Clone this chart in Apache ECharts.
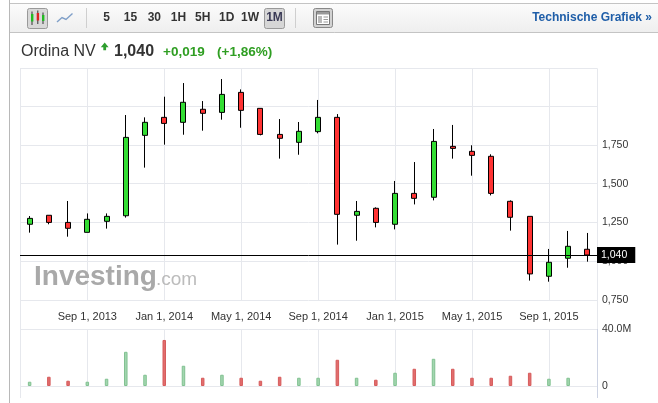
<!DOCTYPE html>
<html><head><meta charset="utf-8">
<script src="https://cdn.jsdelivr.net/npm/echarts@6/dist/echarts.min.js"></script>
<style>html,body{margin:0;padding:0;background:#fff}#c{width:658px;height:403px}</style>
</head><body><div id="c"></div>
<script>
const categories = ['Jun 1, 2013','Jul 1, 2013','Aug 1, 2013','Sep 1, 2013','Oct 1, 2013','Nov 1, 2013','Dec 1, 2013',
  'Jan 1, 2014','Feb 1, 2014','Mar 1, 2014','Apr 1, 2014','May 1, 2014','Jun 1, 2014','Jul 1, 2014','Aug 1, 2014','Sep 1, 2014','Oct 1, 2014','Nov 1, 2014','Dec 1, 2014',
  'Jan 1, 2015','Feb 1, 2015','Mar 1, 2015','Apr 1, 2015','May 1, 2015','Jun 1, 2015','Jul 1, 2015','Aug 1, 2015','Sep 1, 2015','Oct 1, 2015','Nov 1, 2015'];
const tickLabels = ['Sep 1, 2013','Jan 1, 2014','May 1, 2014','Sep 1, 2014','Jan 1, 2015','May 1, 2015','Sep 1, 2015'];
const openValues  = [1.238,1.296,1.250,1.186,1.257,1.293,1.811,1.927,1.895,1.979,1.959,2.088,1.985,1.817,1.766,1.835,1.927,1.296,1.341,1.238,1.437,1.412,1.740,1.708,1.676,1.386,1.289,0.903,1.019,1.077];
const closeValues = [1.276,1.250,1.212,1.270,1.289,1.798,1.895,1.888,2.024,1.953,2.075,1.972,1.817,1.792,1.837,1.927,1.302,1.321,1.250,1.437,1.405,1.772,1.727,1.682,1.437,1.283,0.918,0.993,1.096,1.040];
const lowValues   = [1.184,1.238,1.158,1.186,1.210,1.281,1.603,1.751,1.815,1.841,1.912,1.860,1.811,1.661,1.686,1.824,1.107,1.132,1.218,1.205,1.366,1.392,1.661,1.551,1.424,1.197,0.875,0.868,0.958,0.997];
const highValues  = [1.291,1.296,1.388,1.308,1.308,1.942,1.927,2.060,2.148,2.032,2.174,2.107,1.985,1.916,1.897,2.039,1.948,1.388,1.347,1.517,1.639,1.852,1.878,1.747,1.689,1.392,1.289,1.079,1.195,1.182];
const volumeValues = [3.0,6.5,3.7,3.0,5.1,24.0,7.9,32.3,14.2,5.8,7.9,5.8,3.7,6.5,5.8,5.8,18.4,5.8,4.4,9.3,12.1,19.1,12.1,5.8,5.8,7.2,9.3,5.1,5.8,0]; // millions
const timeframes = ['5','15','30','1H','5H','1D','1W','1M'];
const stockName = 'Ordina NV';
const lastPrice = 1.040;
const changeText = '+0,019';
const changePctText = '(+1,86%)';

const FONT = "'Liberation Sans', Arial, sans-serif";
const GRID = '#e6e8ed';
const fmt = v => v.toFixed(3).replace('.', ',');
const isTick = (i, v) => tickLabels.indexOf(v) >= 0;

const chart = echarts.init(document.getElementById('c'), null, {renderer: 'canvas'});

function txt(x, y, text, font, fill, align) {
  return {type: 'text', x: x, y: y, z: 10, silent: true,
    style: {text: text, font: font, fill: fill, align: align || 'left', verticalAlign: 'middle',
      textAlign: align || 'left', textVerticalAlign: 'middle'}};
}
function line(x1, y1, x2, y2, stroke, w, z) {
  return {type: 'line', z: z == null ? 10 : z, silent: true, shape: {x1: x1, y1: y1, x2: x2, y2: y2}, style: {stroke: stroke, lineWidth: w || 1}};
}
function rect(x, y, w, h, fill, stroke, r, z) {
  return {type: 'rect', z: z == null ? 10 : z, silent: true, shape: {x: x, y: y, width: w, height: h, r: r || 0}, style: {fill: fill, stroke: stroke || null, lineWidth: 1}};
}

const tfX = [106.7, 130.5, 154.3, 178.5, 202.7, 226.7, 250, 274.5];
const graphics = [
  // toolbar
  rect(9.5, 3.5, 660, 29, new echarts.graphic.LinearGradient(0, 0, 0, 1, [{offset: 0, color: '#fcfcfc'}, {offset: 1, color: '#eeeeee'}]), '#c4c4c4', 0, 5),
  line(9.5, 0, 9.5, 403, '#b8b8b8', 1, 6),
  rect(27.5, 8.5, 20, 20, '#d8d8d8', '#999', 2),
  // candle icon
  line(32, 11.5, 32, 25, '#333'), rect(31, 14, 2.4, 7.5, '#22bb22', null, 0, 11),
  line(37.8, 10.5, 37.8, 24, '#333'), rect(36.7, 13, 2.4, 7.5, '#dd2222', null, 0, 11),
  line(43, 12.5, 43, 24, '#333'), rect(42, 15, 2.4, 6, '#22bb22', null, 0, 11),
  // line icon
  {type: 'polyline', z: 10, silent: true, shape: {points: [[57, 22], [62, 17.5], [66, 19.5], [72.5, 13.5]]}, style: {stroke: '#7f9fc8', lineWidth: 1.4, fill: null}},
  line(86.5, 8, 86.5, 28, '#cfcfcf'),
  rect(264.5, 8.5, 20, 20, '#d6d6d6', '#999', 2),
  line(295.5, 8, 295.5, 28, '#cfcfcf'),
  // layout icon
  rect(313.5, 8.5, 19, 19, '#d2d2d2', '#888', 2),
  rect(316.5, 11.5, 13, 13, '#fff', '#777', 0, 11),
  rect(317, 12, 12, 2.5, '#999', null, 0, 12),
  rect(318, 16, 4, 7, '#bbb', null, 0, 12),
  line(323.5, 17, 328, 17, '#999', 1, 12), line(323.5, 19.5, 328, 19.5, '#999', 1, 12), line(323.5, 22, 328, 22, '#999', 1, 12),
  txt(652, 17.3, 'Technische Grafiek \u00bb', "bold 12px " + FONT, '#1f5ea8', 'right'),
  // header
  txt(21, 51.3, stockName, "16px " + FONT, '#333'),
  {type: 'polygon', z: 10, silent: true, shape: {points: [[100.8, 47.2], [104.7, 42.6], [108.6, 47.2], [106.1, 47.2], [106.1, 50.2], [103.3, 50.2], [103.3, 47.2]]}, style: {fill: '#2e9e2e'}},
  txt(114, 51.3, fmt(lastPrice), "bold 16px " + FONT, '#333'),
  txt(163, 52.2, changeText, "bold 13.5px " + FONT, '#2f9e22'),
  txt(217, 52.2, changePctText, "bold 13.5px " + FONT, '#2f9e22'),
  // panel borders
  line(20.5, 68.5, 597.5, 68.5, GRID, 1, 1),
  line(20.5, 68.5, 20.5, 398, GRID, 1, 1),
  line(597.5, 68.5, 597.5, 329, GRID, 1, 1),
  line(597.5, 329, 597.5, 398, '#cdd3e3', 1, 1)
];
const wm1 = txt(34, 277, 'Investing', "bold 28px " + FONT, '#a9a9a9'); wm1.z = 1.6;
const wm2 = txt(156, 280, '.com', "19px " + FONT, '#bcbcbc'); wm2.z = 1.6;
graphics.push(wm1, wm2);
timeframes.forEach((t, i) => graphics.push(txt(tfX[i], 17.5, t, "bold 12px " + FONT, i === 7 ? '#3a3a55' : '#333', 'center')));

const vSplit = {show: true, interval: isTick, alignWithLabel: true, lineStyle: {color: GRID, width: 1}};

const option = {
  animation: false,
  grid: [
    {left: 20, right: 61, top: 68, height: 232},
    {left: 20, right: 61, top: 329, height: 57}
  ],
  xAxis: [
    {type: 'category', data: categories, gridIndex: 0, boundaryGap: true,
      axisLine: {show: false}, axisTick: {show: false}, splitLine: vSplit,
      axisLabel: {interval: isTick, margin: 11.5, fontSize: 11, color: '#333', fontFamily: FONT}},
    {type: 'category', data: categories, gridIndex: 1, boundaryGap: true,
      axisLine: {show: false}, axisTick: {show: false}, splitLine: vSplit, axisLabel: {show: false}}
  ],
  yAxis: [
    {type: 'value', gridIndex: 0, position: 'right', min: 0.75, max: 2.245, interval: 0.25,
      axisLine: {show: false}, axisTick: {show: false}, splitLine: {lineStyle: {color: GRID}},
      axisLabel: {margin: 5, fontSize: 10.5, color: '#333', fontFamily: FONT, formatter: v => v > 1.8 ? '' : fmt(v)}},
    {type: 'value', gridIndex: 1, position: 'right', min: 0, max: 40, interval: 40,
      axisLine: {show: false}, axisTick: {show: false}, splitLine: {lineStyle: {color: GRID}},
      axisLabel: {margin: 5, fontSize: 10.5, color: '#333', fontFamily: FONT, formatter: v => v === 0 ? '0' : v.toFixed(1) + 'M'}}
  ],
  series: [
    {type: 'candlestick', xAxisIndex: 0, yAxisIndex: 0, barWidth: 5.5,
      data: categories.map((c, i) => [openValues[i], closeValues[i], lowValues[i], highValues[i]]),
      itemStyle: {color: '#33dd33', color0: '#ff3333', borderColor: '#000', borderColor0: '#000', borderWidth: 1},
      emphasis: {disabled: true}},
    {type: 'line', xAxisIndex: 0, yAxisIndex: 0, data: closeValues, showSymbol: false, symbol: 'none', silent: true,
      lineStyle: {opacity: 0}, emphasis: {disabled: true},
      markLine: {z: 5, silent: true, animation: false, symbol: ['none', 'none'],
        lineStyle: {color: '#000', width: 1, type: 'solid'}, emphasis: {disabled: true},
        label: {show: true, position: 'end', distance: 0, formatter: () => fmt(lastPrice),
          backgroundColor: '#000', color: '#fff', fontSize: 10.5, fontFamily: FONT, lineHeight: 12, padding: [2, 8, 2, 4]},
        data: [{yAxis: lastPrice}]}},
    {type: 'bar', xAxisIndex: 1, yAxisIndex: 1, barWidth: 3.5,
      data: volumeValues.map((v, i) => ({value: v, itemStyle: closeValues[i] >= openValues[i]
        ? {color: '#a3d6b0', borderColor: '#80c190', borderWidth: v > 0 ? 1 : 0}
        : {color: '#e26d6d', borderColor: '#d65c5c', borderWidth: v > 0 ? 1 : 0}})),
      emphasis: {disabled: true}}
  ],
  graphic: graphics
};
chart.setOption(option);
</script></body></html>
